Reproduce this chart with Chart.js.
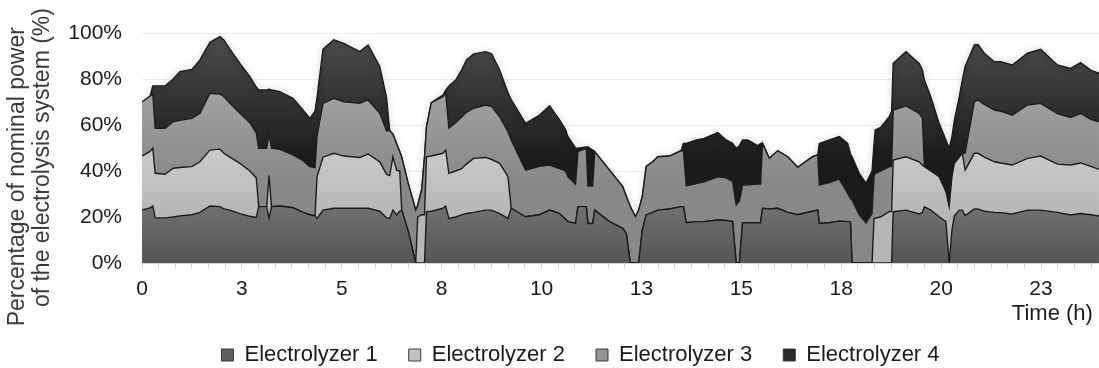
<!DOCTYPE html>
<html>
<head>
<meta charset="utf-8">
<script src="https://cdn.jsdelivr.net/npm/chart.js@4.4.1/dist/chart.umd.min.js"></script>
<style>
  html, body { margin: 0; padding: 0; background: #fff; }
  #wrap { width: 1099px; height: 368px; }
</style>
</head>
<body>
<div id="wrap"><canvas id="myChart"></canvas></div>
<script>
// time of day in hours, shared by all four series
const hours = [
  0, 0.2, 0.27, 0.33, 0.58, 0.78, 0.95, 1.25, 1.45, 1.7,
  1.95, 2.05, 2.2, 2.45, 2.7, 2.86, 2.92, 3.12, 3.18, 3.24,
  3.45, 3.78, 4.03, 4.2, 4.33, 4.38, 4.53, 4.8, 5.05, 5.45,
  5.66, 5.95, 6.12, 6.2, 6.28, 6.37, 6.45, 6.5, 6.66, 6.85,
  6.9, 7, 7.07, 7.12, 7.24, 7.53, 7.6, 7.68, 7.85, 8,
  8.12, 8.3, 8.6, 8.75, 8.95, 9.16, 9.24, 9.6, 9.95, 10.2,
  10.45, 10.6, 10.66, 10.85, 10.91, 11.12, 11.16, 11.28, 11.33, 11.7,
  12.03, 12.12, 12.22, 12.35, 12.43, 12.52, 12.62, 12.78, 12.91, 13.2,
  13.49, 13.55, 13.62, 13.87, 14.07, 14.41, 14.62, 14.78, 14.87, 14.95,
  15.03, 15.16, 15.41, 15.48, 15.53, 15.7, 15.91, 16.16, 16.41, 16.78,
  16.91, 16.95, 17.2, 17.45, 17.66, 17.73, 17.77, 17.95, 18.12, 18.27,
  18.32, 18.35, 18.49, 18.7, 18.76, 18.8, 19.12, 19.45, 19.53, 19.58,
  19.74, 19.95, 20.12, 20.2, 20.27, 20.33, 20.45, 20.53, 20.6, 20.83,
  20.92, 21.08, 21.33, 21.49, 21.78, 22.16, 22.49, 22.91, 23.24, 23.49,
  23.74, 23.95
];

const electrolyzer1 = [
  23, 24, 24.8, 19.6, 19.6, 20, 20.5, 21, 22, 24.8,
  24.5, 23.5, 23, 21.5, 20.3, 19.8, 24.5, 24.5, 19.5, 24.5,
  24.8, 24, 22, 21, 20.5, 19.4, 23, 23.8, 23.8, 23.8,
  23.8, 22.5, 19.6, 19.5, 23, 20.9, 22.5, 23, 14, 0,
  0, 0, 0, 22.3, 22.5, 23.8, 24.8, 19.4, 20, 20.9,
  21.5, 22, 23, 23, 21.5, 19.4, 23.8, 20.1, 21, 23,
  21.5, 19, 18, 17.2, 24.5, 24.5, 17.2, 17.2, 23, 18,
  15.1, 12.9, 0, 0, 0, 14.3, 20.9, 22, 23, 23.5,
  24.5, 24.5, 17.5, 18, 18, 18.7, 18.5, 18, 0, 0,
  17.5, 17.5, 17.5, 17.5, 23.8, 23.5, 23.8, 22, 21, 22.5,
  23, 17.2, 17.5, 18.2, 18, 18, 0, 0, 0, 0,
  0, 0, 0, 0, 0, 22.3, 23, 21.3, 22, 24.5,
  23, 20.1, 18, 0, 14.3, 20.5, 23, 23, 20.6, 23.5,
  23.5, 22.5, 22, 21.9, 21.3, 23, 23, 22, 20.9, 21.5,
  21, 20.4
];

const electrolyzer2 = [
  23.5, 24.5, 25.1, 19.4, 19, 21.2, 21, 20.9, 22, 24.3,
  25, 24.2, 23, 21.8, 19.7, 17.2, 0, 0, 18.5, 0,
  0, 0, 0, 0, 0, 18.1, 23, 23.9, 22.7, 22.1,
  23.6, 21.5, 18.9, 18.5, 23.2, 19.5, 17.5, 0, 0, 0,
  20, 21, 21, 23.9, 24, 23.9, 24.3, 19.6, 20, 20.1,
  21.5, 23.5, 22.9, 22, 21.8, 18.1, 0, 0, 0, 0,
  0, 0, 0, 0, 0, 0, 0, 0, 0, 0,
  0, 0, 0, 0, 0, 0, 0, 0, 0, 0,
  0, 0, 0, 0, 0, 0, 0, 0, 0, 0,
  0, 0, 0, 0, 0, 0, 0, 0, 0, 0,
  0, 0, 0, 0, 0, 0, 0, 0, 0, 0,
  19.4, 19.4, 20.1, 22.3, 22.5, 22.5, 23.2, 22.7, 20.5, 17.4,
  17, 17.4, 13, 24.5, 23.2, 22.8, 23, 24.7, 19.8, 24.2,
  24.2, 23.5, 22, 21.6, 21.3, 22.5, 23.5, 21, 21.7, 22,
  21, 20.3
];

const electrolyzer3 = [
  23.5, 24, 23.6, 19.6, 20, 20.2, 20.5, 21, 21.1, 24.7,
  24, 24.6, 23.5, 21.8, 21, 19.5, 25.4, 25.4, 18, 25.4,
  24.6, 23, 22.5, 20.9, 21, 17.5, 23.4, 23.9, 23.6, 23.5,
  23.5, 21.1, 19, 19.5, 9.8, 11.6, 8.5, 23, 20.7, 23,
  5, 11, 25, 13.1, 23.2, 24.6, 24.7, 19.6, 21, 22.5,
  22.5, 21.8, 22.8, 23, 20.3, 19.5, 29.7, 20.3, 21, 19.6,
  19.5, 21, 19.5, 17.1, 23.9, 25.4, 16.3, 16.3, 25.4, 22.4,
  18.1, 16.1, 24.5, 20.1, 23, 14.5, 21.1, 22, 23.2, 23,
  24.3, 24.3, 16, 16.5, 17.3, 18.8, 18.5, 17.5, 25.2, 27,
  16.4, 16.5, 16.8, 16.8, 28.2, 22, 25, 24.2, 20.6, 23.7,
  24, 16.7, 17.5, 18.3, 12.3, 10, 27.4, 20.9, 17.5, 21.5,
  18.6, 19.6, 19.9, 19.6, 19.5, 21.7, 22.1, 21.1, 20.5, 0,
  0, 0, 0, 0, 0, 0, 0, 0, 7.4, 22.4,
  23.2, 23, 22.5, 22.5, 21.7, 23.2, 22.9, 22, 20.7, 21.5,
  20.5, 20.7
];

const electrolyzer4 = [
  0, 0, 3.5, 18.4, 18.4, 18.6, 21.2, 21.3, 23.2, 22.2,
  24.9, 24.7, 23.5, 21.7, 20, 20, 25.3, 25.3, 19.5, 25.3,
  25.1, 24.6, 22, 21, 24.5, 17, 23.6, 25.4, 25.4, 22.5,
  23.9, 20.3, 14.5, 0, 0, 0, 0, 0, 0, 0,
  0, 0, 0, 0, 0, 0.7, 1.4, 18.4, 18.5, 20.5,
  22.8, 23.6, 23.2, 23, 20.3, 17, 17.5, 20.3, 22.3, 25.7,
  21.2, 18, 17.4, 15.7, 1.5, 0.6, 17, 15.6, 0, 0,
  0, 0, 0, 0, 0, 0, 0, 0, 0, 0,
  0, 3.2, 18.5, 19, 18.9, 19.2, 16.5, 16.5, 24.7, 24,
  19.6, 19.5, 16.7, 17.7, 0, 0, 0, 0, 0, 0,
  0, 18.1, 18.5, 18.5, 21.7, 19.5, 18.8, 18.1, 17.2, 18.5,
  14, 18.8, 19, 21.7, 24, 20.3, 23.6, 21.7, 21, 37.7,
  32.3, 23.2, 22.5, 25.4, 17.4, 18.7, 26, 31.9, 37.6, 24.7,
  24.1, 22.2, 21, 21.5, 21.8, 22.5, 23.5, 21.1, 21.3, 22.1,
  21.4, 21.1
];

const seriesNames = ["Electrolyzer 1", "Electrolyzer 2", "Electrolyzer 3", "Electrolyzer 4"];
const xTickLabels = ["0", "3", "5", "8", "10", "13", "15", "18", "20", "23"];
const hoursPerLabel = 2.5;
const ticksPerLabel = 6;

const FONT = "'Liberation Sans', Arial, sans-serif";

// vertical gradient between two y values, like the shaded office-style fills
function shade(hiVal, loVal, hiColor, loColor) {
  return (c) => {
    const chart = c.chart;
    if (!chart.chartArea) return loColor;
    const y = chart.scales.y;
    const g = chart.ctx.createLinearGradient(0, y.getPixelForValue(hiVal), 0, y.getPixelForValue(loVal));
    g.addColorStop(0, hiColor);
    g.addColorStop(1, loColor);
    return g;
  };
}

const fills = [
  shade(25, 0, "#717171", "#555555"),
  shade(50, 20, "#cbcbcb", "#b6b6b6"),
  shade(75, 35, "#a2a2a2", "#888888"),
  shade(100, 45, "#4e4e4e", "#1b1b1b")
];
const swatches = ["#5f5f5f", "#c2c2c2", "#959595", "#2a2a2a"];

const series = [electrolyzer1, electrolyzer2, electrolyzer3, electrolyzer4];

const datasets = series.map((vals, i) => ({
  label: seriesNames[i],
  data: hours.map((h, k) => ({x: h, y: vals[k]})),
  backgroundColor: fills[i],
  borderColor: "#1c1c1c",
  borderWidth: 1.4,
  pointRadius: 0,
  tension: 0,
  fill: i === 0 ? "origin" : "-1"
}));

// soft dark halo along the top edge of the stack
const topGlow = {
  id: "topGlow",
  beforeDatasetDraw(chart, args) {
    if (args.index === 3) {
      chart.ctx.save();
      chart.ctx.shadowColor = "rgba(0,0,0,0.35)";
      chart.ctx.shadowBlur = 6;
    }
  },
  afterDatasetDraw(chart, args) {
    if (args.index === 3) chart.ctx.restore();
  }
};

// legend in the original sits a bit right of the canvas centre
const legendNudge = {
  id: "legendNudge",
  afterLayout(chart) {
    if (chart.legend) {
      chart.legend.left += 31;
      chart.legend.right += 31;
    }
  }
};

const ctx = document.getElementById("myChart").getContext("2d");

new Chart(ctx, {
  type: "line",
  data: { datasets },
  plugins: [topGlow, legendNudge],
  options: {
    responsive: true,
    maintainAspectRatio: false,
    animation: false,
    devicePixelRatio: 1,
    layout: { autoPadding: false, padding: { top: 33, left: 0, right: 0, bottom: 0 } },
    plugins: {
      tooltip: { enabled: false },
      filler: { propagate: false },
      legend: {
        position: "bottom",
        maxHeight: 55,
        labels: {
          font: { family: FONT, size: 22 },
          color: "#1a1a1a",
          boxWidth: 12,
          boxHeight: 12,
          padding: 31,
          generateLabels: (chart) =>
            Chart.defaults.plugins.legend.labels.generateLabels(chart).map((item, i) =>
              Object.assign(item, { fillStyle: swatches[i], strokeStyle: "#3a3a3a", lineWidth: 1 }))
        }
      }
    },
    scales: {
      x: {
        type: "linear",
        min: 0,
        max: 23.95,
        afterBuildTicks: (s) => {
          const t = [];
          for (let k = 0; k * hoursPerLabel / ticksPerLabel <= s.max; k++) {
            t.push({ value: k * hoursPerLabel / ticksPerLabel });
          }
          s.ticks = t;
        },
        afterFit: (s) => { s.height = 50; },
        ticks: {
          autoSkip: false,
          maxRotation: 0,
          padding: 8,
          color: "#1a1a1a",
          font: { family: FONT, size: 21 },
          callback: (v, i) => (i % ticksPerLabel === 0 ? xTickLabels[i / ticksPerLabel] : "")
        },
        grid: { drawOnChartArea: false, drawTicks: true, tickLength: 6, color: "#d6d6d6" },
        border: { display: true, color: "#d6d6d6" },
        title: {
          display: true,
          text: "Time (h) ",
          align: "end",
          color: "#1a1a1a",
          font: { family: FONT, size: 22 },
          padding: { top: 0, bottom: -14 }
        }
      },
      y: {
        stacked: true,
        min: 0,
        max: 100,
        afterFit: (s) => { s.width = 142; },
        ticks: {
          stepSize: 20,
          padding: 20,
          color: "#1a1a1a",
          font: { family: FONT, size: 21 },
          callback: (v) => v + "%"
        },
        grid: { color: "#ececec", drawTicks: false },
        border: { display: false },
        title: {
          display: true,
          text: ["Percentage of nominal power         ", "of the electrolysis system (%)   "],
          color: "#3a3a3a",
          font: { family: FONT, size: 23, lineHeight: 1.05 },
          padding: { top: 6, bottom: 0 }
        }
      }
    }
  }
});
</script>
</body>
</html>
